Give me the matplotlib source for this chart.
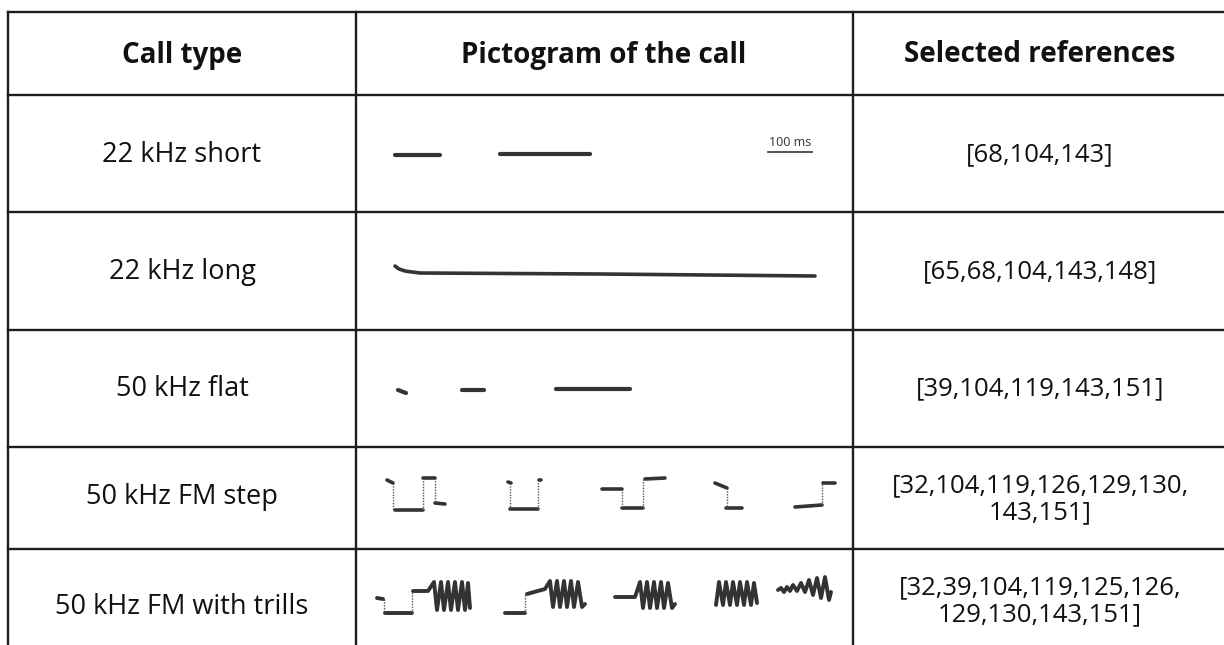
import matplotlib
matplotlib.use("Agg")
import matplotlib.pyplot as plt

plt.rcParams['font.family'] = ['Open Sans', 'DejaVu Sans']

# table content
headers = ["Call type", "Pictogram of the call", "Selected references"]
call_types = ["22 kHz short", "22 kHz long", "50 kHz flat",
              "50 kHz FM step", "50 kHz FM with trills"]
references = ["[68,104,143]",
              "[65,68,104,143,148]",
              "[39,104,119,143,151]",
              "[32,104,119,126,129,130,\n143,151]",
              "[32,39,104,119,125,126,\n129,130,143,151]"]

# grid (pixel coordinates of the page)
col_edges = [8, 356, 853, 1226]
row_edges = [12, 95, 212, 330, 447, 549, 650]

# pictograms: thick strokes (x list, y list) and thin dotted risers
row1_strokes = [([395, 440], [155, 155]),
                ([500, 590], [154, 154])]
row2_strokes = [([395, 399, 405, 412, 420, 600, 815],
                 [266, 269, 271, 272, 273, 274, 276])]
row3_strokes = [([398, 406], [390, 393]),
                ([462, 484], [390, 390]),
                ([556, 630], [389, 389])]
row4_strokes = [([387, 393], [480, 483]), ([395, 423], [510, 510]),
                ([423, 435], [478, 478]), ([435, 445], [503, 504]),
                ([508, 511], [482, 483]), ([510, 538], [509, 509]),
                ([539, 541], [480, 480]),
                ([602, 622], [489, 489]), ([622, 643], [508, 508]),
                ([645, 665], [479, 478]),
                ([715, 727], [483, 488]), ([726, 742], [508, 508]),
                ([795, 822], [507, 505]), ([823, 835], [483, 483])]
row4_dotted = [([393, 393], [483, 510]), ([423, 423], [510, 478]),
               ([435, 435], [478, 503]),
               ([510, 510], [483, 509]), ([538, 538], [509, 481]),
               ([622, 622], [489, 508]), ([643, 643], [508, 479]),
               ([727, 727], [488, 508]),
               ([822, 822], [505, 484])]
row5_strokes = [([377, 383], [598, 599]), ([385, 412], [613, 613]),
                ([413, 428, 434, 437, 441, 444, 448, 451, 455, 458, 462, 465, 468, 470],
                 [591, 591, 582, 610, 582, 610, 582, 610, 582, 610, 582, 610, 583, 608]),
                ([505, 525], [613, 613]),
                ([527, 545, 550, 553, 557, 560, 564, 567, 571, 574, 578, 582, 585],
                 [594, 589, 581, 607, 581, 607, 581, 607, 581, 607, 582, 607, 604]),
                ([615, 635, 640, 643, 647, 650, 654, 657, 661, 664, 668, 672, 675],
                 [597, 597, 582, 608, 582, 608, 582, 608, 582, 608, 583, 608, 604]),
                ([716, 719, 723, 726, 730, 733, 737, 740, 744, 747, 751, 754, 757],
                 [605, 582, 605, 582, 605, 582, 605, 582, 605, 582, 605, 583, 603]),
                ([778, 781, 784, 787, 790, 793, 797, 801, 805, 809, 813, 817, 821, 825, 829, 831],
                 [590, 588, 592, 587, 591, 585, 591, 583, 592, 580, 595, 578, 598, 577, 600, 592])]
row5_dotted = [([384, 384], [599, 613]), ([412, 412], [613, 591]),
               ([525, 525], [613, 594])]

fig = plt.figure(figsize=(12.24, 6.45), dpi=100)
ax = fig.add_axes([0, 0, 1, 1])
ax.set_xlim(0, 1224)
ax.set_ylim(645, 0)
ax.axis('off')

grid_color = '#1e1e1e'
for x in col_edges:
    ax.plot([x, x], [row_edges[0], row_edges[-1]], color=grid_color, lw=1.7)
for y in row_edges[:-1]:
    ax.plot([col_edges[0], col_edges[-1]], [y, y], color=grid_color, lw=1.7)

centers_x = [182, 604, 1040]
for cx, h in zip(centers_x, headers):
    ax.text(cx, 55, h, ha='center', va='center', fontsize=20,
            fontweight='bold', color='#111111')

name_y = [155, 272, 389, 497, 607]
ref_y = [155, 272, 389, 499, 601]
for yn, yr, name, ref in zip(name_y, ref_y, call_types, references):
    ax.text(centers_x[0], yn, name, ha='center', va='center', fontsize=19.5,
            color='#111111')
    ax.text(centers_x[2], yr, ref, ha='center', va='center', fontsize=18.5,
            color='#111111', linespacing=1.1)

ink = '#333333'
for strokes, lw in [(row1_strokes, 3.0), (row2_strokes, 2.6), (row3_strokes, 3.0),
                    (row4_strokes, 2.6), (row5_strokes, 2.8)]:
    for xs, ys in strokes:
        ax.plot(xs, ys, color=ink, lw=lw, solid_capstyle='round',
                solid_joinstyle='round')
for xs, ys in row4_dotted + row5_dotted:
    ax.plot(xs, ys, color='#555555', lw=1.0, linestyle=(0, (1, 1)))

# scale bar
ax.text(790, 143, "100 ms", ha='center', va='center', fontsize=9, color='#333333')
ax.plot([768, 812], [152, 152], color='#333333', lw=1.2)

fig.savefig("out.png", dpi=100)
